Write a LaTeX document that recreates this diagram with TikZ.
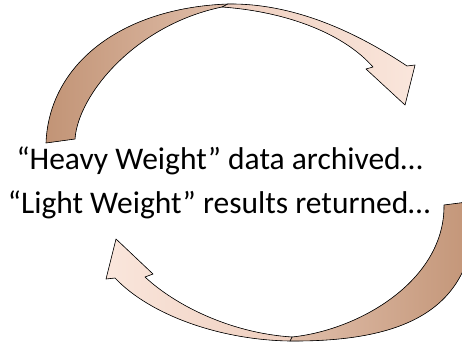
\documentclass[tikz,border=0pt]{standalone}
\usepackage{fontspec}
\setmainfont{Carlito}
\usetikzlibrary{positioning}

\definecolor{tanDark}{RGB}{194,148,118}
\definecolor{tanMid}{RGB}{224,190,170}
\definecolor{peachMid}{RGB}{238,206,190}
\definecolor{peachLight}{RGB}{250,230,220}

\tikzset{
  band/.style={draw=black, line width=0.6pt, line join=round},
  backband/.style={band, left color=tanDark, right color=tanMid},
  backbandR/.style={band, right color=tanDark, left color=tanMid},
  frontband/.style={band, left color=peachMid, right color=peachLight},
  frontbandR/.style={band, right color=peachMid, left color=peachLight},
  caption/.style={font=\fontsize{31.5}{36}\selectfont, anchor=base, inner sep=0pt}
}

\begin{document}
\begin{tikzpicture}[x=1pt, y=-1pt]
    \useasboundingbox (0,0) rectangle (462,342);
    \clip (0,0) rectangle (462,342);

    % upper arrow: back part (tail up to the top)
    \fill[backband] (46,143) .. controls (49,65) and (120,8) .. (228,4)
        -- (222,7) .. controls (135,25) and (78,95) .. (75,139) -- cycle;
    % upper arrow: front part with head
    \fill[frontband] (228,4) .. controls (300,3) and (365,38) .. (407,66)
        -- (415,65) -- (405,105) -- (366,69) -- (373,67)
        .. controls (345,35) and (290,12) .. (222,7) -- cycle;

    % lower arrow: back part (tail down to the bottom)
    \fill[backbandR] (475,201) .. controls (478,300) and (420,342) .. (290,341)
        -- (292,337) .. controls (360,330) and (445,280) .. (444,205) -- cycle;
    % lower arrow: front part with head
    \fill[frontbandR] (290,341) .. controls (220,340) and (150,315) .. (115,278)
        -- (106,279) -- (116,239) -- (153,274) -- (145,277)
        .. controls (175,305) and (230,333) .. (292,337) -- cycle;

    % texts
    \node[caption] (heavy) at (219.5,169.3) {“Heavy Weight” data archived…};
    \node[caption] (light) at (219,213.3) {“Light Weight” results returned…};
\end{tikzpicture}
\end{document}
